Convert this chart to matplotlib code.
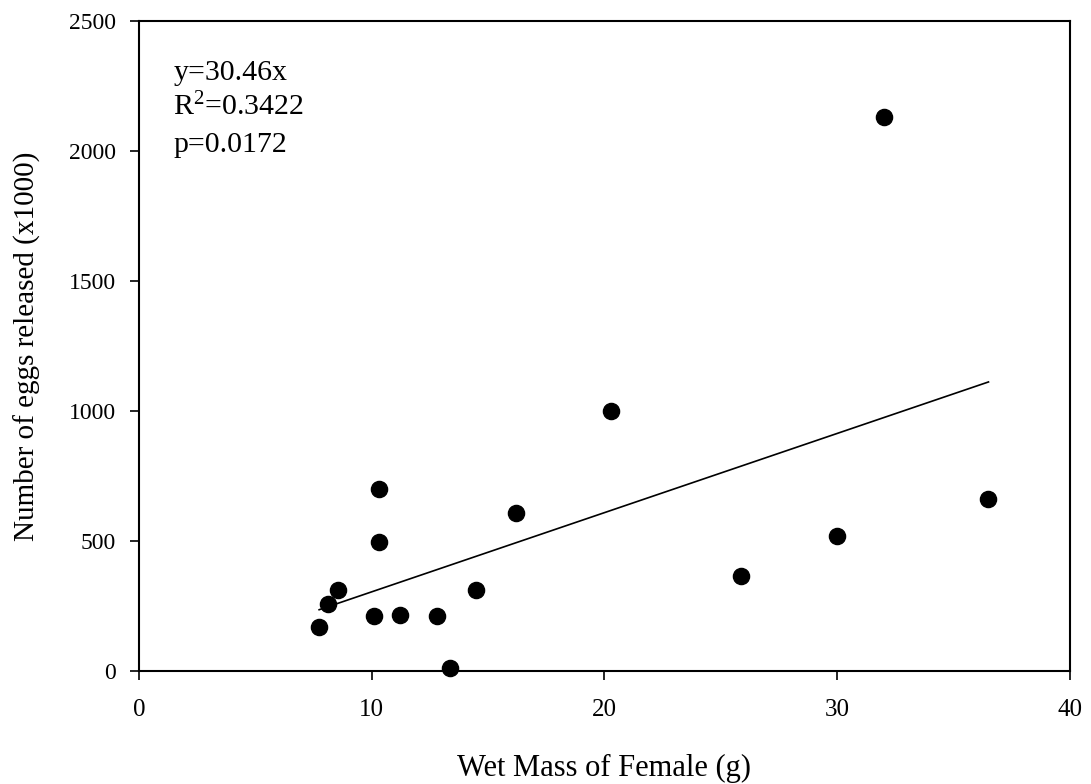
import numpy as np
import matplotlib
matplotlib.use("Agg")
import matplotlib.pyplot as plt

# -----------------------------
# DATA
# -----------------------------
wet_mass = [7.74, 8.1, 8.53, 10.1, 10.3, 10.3, 11.2, 12.8, 13.36, 14.5,
            16.2, 20.3, 25.85, 30.0, 32.0, 36.5]
eggs = [170, 258, 311, 213, 497, 702, 215, 213, 10, 311,
        609, 1000, 365, 519, 2131, 662]

slope = 30.46
fit_text = ["y=30.46x", r"R$^{\mathrm{2}}$=0.3422", "p=0.0172"]

x_ticks = [0, 10, 20, 30, 40]
y_ticks = [0, 500, 1000, 1500, 2000, 2500]

# -----------------------------
# STYLE
# -----------------------------
plt.rcParams["font.family"] = ["Liberation Serif", "DejaVu Serif"]
plt.rcParams["mathtext.fontset"] = "custom"
plt.rcParams["mathtext.rm"] = "Liberation Serif"
plt.rcParams["mathtext.it"] = "Liberation Serif:italic"

fig = plt.figure(figsize=(10.91, 7.84), dpi=100)
ax = fig.add_axes([0.1274, 0.1441, 0.8533, 0.8291])

ax.scatter(wet_mass, eggs, s=135, color="black", zorder=3, clip_on=False)

# regression through origin, drawn over the data range
xfit = np.array([min(wet_mass), max(wet_mass)])
ax.plot(xfit, slope * xfit, color="black", lw=1.2)

ax.set_xlim(0, 40)
ax.set_ylim(0, 2500)
ax.set_xticks(x_ticks)
ax.set_yticks(y_ticks)
ax.tick_params(direction="out", length=6.5, width=1.2)
ax.tick_params(axis="x", labelsize=18, pad=14)
ax.tick_params(axis="y", labelsize=17, pad=10)
for s in ax.spines.values():
    s.set_linewidth(1.5)

ax.set_xlabel("Wet Mass of Female (g)", fontsize=22, labelpad=23)
ax.set_ylabel("Number of eggs released (x1000)", fontsize=21, labelpad=20)

ys = [0.909, 0.855, 0.798]
for t, yy in zip(fit_text, ys):
    ax.text(0.037, yy, t, transform=ax.transAxes, fontsize=21.5, va="baseline")

fig.savefig("out.png", dpi=100)
